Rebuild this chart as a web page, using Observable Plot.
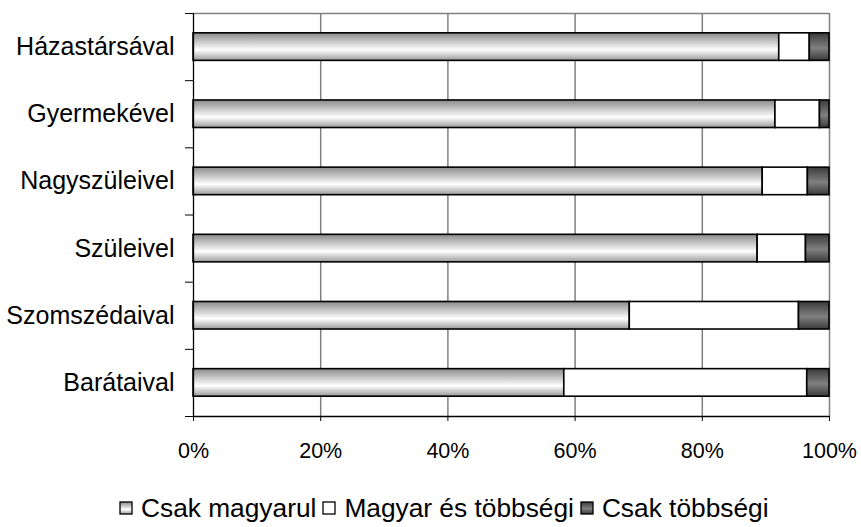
<!DOCTYPE html>
<html>
<head>
<meta charset="utf-8">
<script src="https://cdn.jsdelivr.net/npm/d3@7"></script>
<script src="https://cdn.jsdelivr.net/npm/@observablehq/plot@0.6"></script>
<style>
  body { margin: 0; background: #fff; font-family: "Liberation Sans", Arial, sans-serif; }
  #legend { display: flex; justify-content: flex-start; align-items: center; margin-top: 28px;
            font-size: 26.3px; line-height: 30px; color: #000; padding-left: 119px; }
  .item { display: flex; align-items: center; margin-right: 6px; white-space: pre; }
  .item svg { margin-right: 8px; }
</style>
</head>
<body>
<div id="chart"></div>
<div id="legend"></div>
<script>
const categories = ["Házastársával", "Gyermekével", "Nagyszüleivel", "Szüleivel", "Szomszédaival", "Barátaival"];
const series = ["Csak magyarul", "Magyar és többségi", "Csak többségi"];
const csakMagyarul     = [92.1, 91.5, 89.5, 88.7, 68.6, 58.3];
const magyarEsTobbsegi = [4.8, 7.0, 7.1, 7.6, 26.6, 38.2];
const csakTobbsegi     = [3.1, 1.5, 3.4, 3.7, 4.8, 3.5];
const xTicks = [0, 20, 40, 60, 80, 100];

const fills = ["url(#gLight)", "#ffffff", "url(#gDark)"];
const values = [csakMagyarul, magyarEsTobbsegi, csakTobbsegi];
const pad = 0.295;

const rows = [];
categories.forEach((c, i) => {
  let acc = 0;
  series.forEach((s, k) => {
    const v = values[k][i];
    rows.push({category: c, series: s, x1: acc, x2: acc + v, y1: i + pad, y2: i + 1 - pad});
    acc += v;
  });
});

const plot = Plot.plot({
  width: 861,
  height: 465,
  marginTop: 13,
  marginBottom: 49,
  marginLeft: 193,
  marginRight: 32,
  style: {fontFamily: "'Liberation Sans', Arial, sans-serif", color: "#000", background: "#fff"},
  x: {domain: [0, 100], label: null},
  y: {domain: [0, categories.length], reverse: true, label: null},
  color: {domain: series, range: fills},
  marks: [
    Plot.ruleX(xTicks.slice(1), {stroke: "#808080", strokeWidth: 1.5}),
    Plot.ruleY([0], {stroke: "#808080", strokeWidth: 1.5}),
    Plot.rectX(rows, {x1: "x1", x2: "x2", y1: "y1", y2: "y2", fill: "series", stroke: "#000", strokeWidth: 1.6}),
    Plot.ruleX([0], {stroke: "#000", strokeWidth: 1.3}),
    Plot.ruleY([categories.length], {stroke: "#000", strokeWidth: 1.3}),
    Plot.axisX({ticks: xTicks, tickFormat: d => d + "%", tickSize: 5, tickPadding: 21, fontSize: 21.5}),
    Plot.axisY({ticks: d3.range(categories.length + 1), tickSize: 8, tickFormat: () => ""}),
    Plot.axisY({ticks: categories.map((c, i) => i + 0.5), tickFormat: v => categories[Math.floor(v)],
                tickSize: 0, tickPadding: 19, fontSize: 25})
  ]
});

const svg = d3.select(plot);
const defs = svg.insert("defs", ":first-child");
const gl = defs.append("linearGradient").attr("id", "gLight").attr("x1", 0).attr("y1", 0).attr("x2", 0).attr("y2", 1);
gl.append("stop").attr("offset", "0").attr("stop-color", "#8a8a8a");
gl.append("stop").attr("offset", "0.62").attr("stop-color", "#ffffff");
gl.append("stop").attr("offset", "1").attr("stop-color", "#9a9a9a");
const gd = defs.append("linearGradient").attr("id", "gDark").attr("x1", 0).attr("y1", 0).attr("x2", 0).attr("y2", 1);
gd.append("stop").attr("offset", "0").attr("stop-color", "#3a3a3a");
gd.append("stop").attr("offset", "0.55").attr("stop-color", "#808080");
gd.append("stop").attr("offset", "1").attr("stop-color", "#3a3a3a");

document.getElementById("chart").appendChild(plot);

const legend = d3.select("#legend");
series.forEach((s, k) => {
  const it = legend.append("span").attr("class", "item");
  const sw = it.append("svg").attr("width", 14).attr("height", 14);
  sw.append("rect").attr("x", 1).attr("y", 1).attr("width", 12).attr("height", 12)
    .attr("fill", fills[k]).attr("stroke", "#000").attr("stroke-width", 1.3);
  it.append("span").text(s);
});
</script>
</body>
</html>
